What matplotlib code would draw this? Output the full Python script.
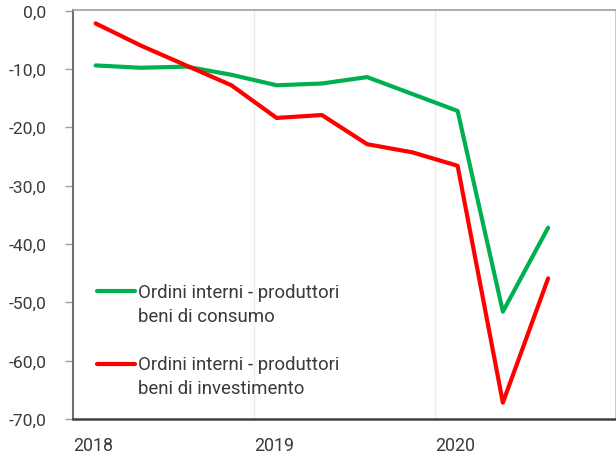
import matplotlib
matplotlib.use("Agg")
import matplotlib.pyplot as plt
from matplotlib.ticker import FuncFormatter, FixedLocator
from matplotlib.lines import Line2D

# Quarterly data, 2018 Q1 - 2020 Q3 (placed at the middle of each quarter)
quarters = ["2018Q1", "2018Q2", "2018Q3", "2018Q4",
            "2019Q1", "2019Q2", "2019Q3", "2019Q4",
            "2020Q1", "2020Q2", "2020Q3"]
consumo = [-9.4, -9.8, -9.6, -11.0, -12.8, -12.5, -11.4, -14.3, -17.2, -51.6, -37.2]
investimento = [-2.2, -6.0, -9.4, -12.8, -18.4, -17.9, -22.9, -24.3, -26.6, -67.2, -45.9]
series_labels = [["Ordini interni - produttori", "beni di consumo"],
                 ["Ordini interni - produttori", "beni di investimento"]]
series_colors = ["#00B050", "#FF0000"]
year_ticks = [2018, 2019, 2020]
y_ticks = [0, -10, -20, -30, -40, -50, -60, -70]

def q_to_x(q):
    y = int(q[:4]); n = int(q[-1])
    return y + (n - 1) * 0.25 + 0.125

xs = [q_to_x(q) for q in quarters]

plt.rcParams['font.family'] = ['Roboto', 'DejaVu Sans']
text_color = "#3a3a3a"
W, H = 616, 456
fig = plt.figure(figsize=(W / 100, H / 100), dpi=100)
ax_l, ax_b, ax_w, ax_h = 73, 36, 543, 409
ax = fig.add_axes([ax_l / W, ax_b / H, ax_w / W, ax_h / H])

for vals, col in zip([consumo, investimento], series_colors):
    ax.plot(xs, vals, color=col, lw=3.0, solid_joinstyle="round",
            solid_capstyle="round")

ax.set_xlim(2018, 2021)
ax.set_ylim(-70, 0.1)
ax.xaxis.set_major_locator(FixedLocator(year_ticks))
ax.set_xticklabels([str(y) for y in year_ticks])
for lab in ax.get_xticklabels():
    lab.set_horizontalalignment("left")
ax.tick_params(axis="x", length=0, pad=12, labelsize=12.8, labelcolor=text_color)
ax.grid(axis="x", color="#ebebeb", lw=1)
ax.set_yticks(y_ticks)
ax.yaxis.set_major_formatter(FuncFormatter(lambda v, p: f"{v:.1f}".replace(".", ",")))
ax.tick_params(axis="y", length=6, width=1, color="#a0a0a0", pad=13,
               labelsize=12.6, labelcolor=text_color)

ax.spines["left"].set_color("#707070")
ax.spines["left"].set_linewidth(1.5)
ax.spines["bottom"].set_color("#404040")
ax.spines["bottom"].set_linewidth(1.8)
ax.spines["top"].set_color("#a0a0a0")
ax.spines["top"].set_linewidth(1.2)
ax.spines["right"].set_color("#c0c0c0")
ax.spines["right"].set_linewidth(1.2)

# Legend (manual layout, handle aligned with the first text line)
def px_x(p):
    return (p - ax_l) / ax_w

def px_y(p):  # p measured from top of figure
    return (H - p - ax_b) / ax_h

legend_tops = [292, 364.5]
for lines, col, yc in zip(series_labels, series_colors, legend_tops):
    ax.add_line(Line2D([px_x(97), px_x(135)], [px_y(yc), px_y(yc)],
                       transform=ax.transAxes, color=col, lw=3.0,
                       solid_capstyle="round", clip_on=False))
    for i, t in enumerate(lines):
        ax.text(px_x(137.5), px_y(yc + 5.5 + 24.3 * i), t, transform=ax.transAxes,
                ha="left", va="baseline", fontsize=13.4, color=text_color)

fig.savefig("out.png", dpi=100)
